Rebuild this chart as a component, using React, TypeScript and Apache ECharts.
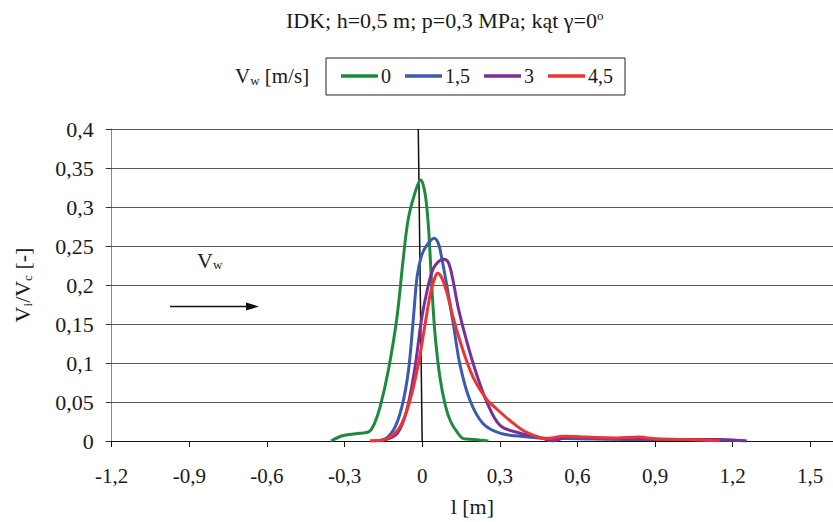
import React, { useEffect, useRef } from "react";
import * as echarts from "echarts";

const xTicks = [-1.2, -0.9, -0.6, -0.3, 0, 0.3, 0.6, 0.9, 1.2, 1.5];
const legendNames = ["0", "1,5", "3", "4,5"];
const seriesColors = ["#1e8a3e", "#3a5cb0", "#7a2e9a", "#ee3333"];

const green: number[][] = [
  [-0.352, 0], [-0.305, 0.007], [-0.24, 0.01], [-0.205, 0.012], [-0.185, 0.022],
  [-0.163, 0.043], [-0.131, 0.09], [-0.098, 0.157], [-0.073, 0.234], [-0.054, 0.284],
  [-0.028, 0.318], [-0.006, 0.335], [0.011, 0.318], [0.024, 0.276], [0.037, 0.2],
  [0.05, 0.136], [0.069, 0.081], [0.09, 0.045], [0.11, 0.025], [0.134, 0.012],
  [0.16, 0.003], [0.2, 0.002], [0.256, 0],
];
const blue: number[][] = [
  [-0.2, 0], [-0.156, 0.001], [-0.111, 0.014], [-0.079, 0.043], [-0.053, 0.09],
  [-0.034, 0.157], [-0.019, 0.212], [-0.002, 0.238], [0.018, 0.251], [0.046, 0.26],
  [0.063, 0.253], [0.076, 0.234], [0.095, 0.2], [0.121, 0.149], [0.146, 0.098],
  [0.185, 0.052], [0.236, 0.022], [0.3, 0.01], [0.38, 0.006], [0.45, 0.004],
  [0.6, 0.003], [0.8, 0.002], [1.0, 0.002], [1.2, 0.001], [1.25, 0],
];
const purple: number[][] = [
  [-0.163, 0], [-0.098, 0.009], [-0.06, 0.039], [-0.028, 0.094], [-0.002, 0.157],
  [0.024, 0.2], [0.043, 0.221], [0.063, 0.23], [0.082, 0.233], [0.101, 0.229],
  [0.118, 0.208], [0.14, 0.17], [0.172, 0.128], [0.211, 0.085], [0.25, 0.05],
  [0.301, 0.02], [0.378, 0.01], [0.45, 0.005], [0.507, 0], [0.559, 0.005],
  [0.65, 0.004], [0.8, 0.003], [1.0, 0.002], [1.15, 0.002], [1.255, 0],
];
const red: number[][] = [
  [-0.202, 0], [-0.137, 0.003], [-0.086, 0.018], [-0.047, 0.052], [-0.015, 0.098],
  [0.011, 0.149], [0.033, 0.191], [0.05, 0.21], [0.06, 0.215], [0.076, 0.209],
  [0.095, 0.191], [0.121, 0.157], [0.159, 0.115], [0.198, 0.081], [0.25, 0.053],
  [0.275, 0.045], [0.34, 0.026], [0.404, 0.011], [0.481, 0.003], [0.546, 0.006],
  [0.636, 0.005], [0.75, 0.004], [0.84, 0.005], [0.9, 0.003], [1.023, 0.002], [1.151, 0],
];
const zeroLine: number[][] = [[-0.015, 0.4], [0, 0]];

const FONT = "'Liberation Serif', 'Times New Roman', serif";
const TXT = "#1a1a1a";

export default function App() {
  const ref = useRef<HTMLDivElement>(null);
  useEffect(() => {
    document.body.style.margin = "0";
    const chart = echarts.init(ref.current!, null, { renderer: "svg" });
    const fmt = (v: number) => {
      const r = Math.round(v * 100) / 100;
      return String(r).replace(".", ",");
    };
    const curves = [green, blue, purple, red];
    const subStyle = { fontFamily: FONT, fontSize: 13, verticalAlign: "bottom", padding: [9, 0, 0, 0], color: TXT, fill: TXT };
    chart.setOption({
      animation: false,
      backgroundColor: "#ffffff",
      title: {
        text: "IDK; h=0,5 m; p=0,3 MPa; kąt γ=0{sup|o}",
        left: 286,
        top: 9,
        padding: 0,
        textStyle: {
          fontFamily: FONT,
          fontSize: 22,
          fontWeight: "normal",
          color: TXT,
          rich: {
            sup: { fontFamily: FONT, fontSize: 13, verticalAlign: "top", padding: [0, 0, 9, 0], color: TXT },
          },
        },
      },
      legend: {
        data: legendNames,
        left: 326,
        top: 58,
        icon: "rect",
        itemWidth: 37,
        itemHeight: 3.5,
        itemGap: 14,
        padding: [8, 12, 9, 15],
        borderColor: "#222",
        borderWidth: 1,
        borderRadius: 0,
        textStyle: { fontFamily: FONT, fontSize: 20, color: TXT, padding: [0, 0, 0, -2] },
      },
      grid: { left: 111.7, right: 0, top: 129, bottom: 78, containLabel: false },
      xAxis: {
        type: "value",
        min: -1.2,
        max: 1.588,
        name: "l [m]",
        nameLocation: "middle",
        nameGap: 54,
        nameTextStyle: { fontFamily: FONT, fontSize: 22, color: TXT },
        axisLine: { show: true, onZero: false, lineStyle: { color: "#111", width: 1 } },
        axisTick: { show: true, length: 6, customValues: xTicks, lineStyle: { color: "#111" } },
        axisLabel: {
          customValues: xTicks,
          formatter: fmt,
          margin: 24,
          fontFamily: FONT,
          fontSize: 21,
          color: TXT,
        },
        splitLine: { show: false },
      },
      yAxis: {
        type: "value",
        min: 0,
        max: 0.4,
        interval: 0.05,
        name: "V{sub|i}/V{sub|c} [-]",
        nameLocation: "middle",
        nameRotate: 90,
        nameGap: 78,
        nameTextStyle: {
          fontFamily: FONT,
          fontSize: 22,
          color: TXT,
          rich: { sub: subStyle },
        },
        axisLine: { show: true, onZero: false, lineStyle: { color: "#888", width: 1 } },
        axisTick: { show: true, length: 6, lineStyle: { color: "#333" } },
        axisLabel: { formatter: fmt, margin: 18, fontFamily: FONT, fontSize: 22, color: TXT },
        splitLine: { show: true, lineStyle: { color: "#5a5a5a", width: 1 } },
      },
      series: [
        {
          name: "zero",
          type: "line",
          data: zeroLine,
          symbol: "none",
          lineStyle: { color: "#111", width: 1.5 },
          silent: true,
        },
        ...curves.map((d, i) => ({
          name: legendNames[i],
          type: "line",
          data: d,
          smooth: 0.35,
          symbol: "none",
          color: seriesColors[i],
          lineStyle: { color: seriesColors[i], width: 3 },
        })),
      ],
      graphic: [
        {
          type: "text",
          left: 235,
          top: 65,
          style: {
            text: "V{sub|w} [m/s]",
            fontFamily: FONT,
            fontSize: 21,
            fill: TXT,
            rich: { sub: subStyle },
          },
        },
        {
          type: "text",
          left: 197,
          top: 249,
          style: {
            text: "V{sub|w}",
            fontFamily: FONT,
            fontSize: 22,
            fill: TXT,
            rich: { sub: subStyle },
          },
        },
        {
          type: "line",
          shape: { x1: 170, y1: 306.5, x2: 250, y2: 306.5 },
          style: { stroke: "#111", lineWidth: 1.5 },
        },
        {
          type: "polygon",
          shape: { points: [[246, 302.5], [259, 306.5], [246, 310.5]] },
          style: { fill: "#111" },
        },
      ],
    });
    return () => chart.dispose();
  }, []);
  return <div ref={ref} style={{ position: "fixed", left: 0, top: 0, width: 833, height: 522 }} />;
}
